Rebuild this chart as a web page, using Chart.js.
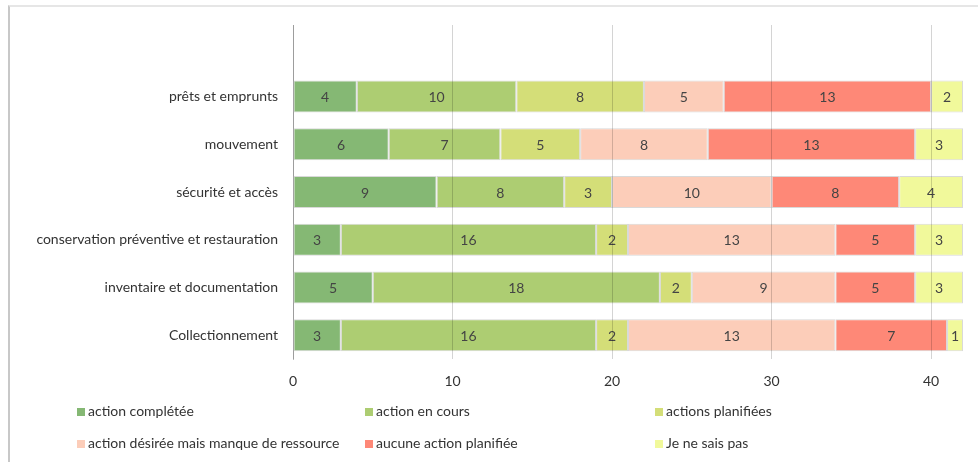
<!DOCTYPE html>
<html>
<head>
<meta charset="utf-8">
<script src="https://cdn.jsdelivr.net/npm/chart.js@4"></script>
<style>
    body { margin: 0; background: #fff; }
    #wrap { position: relative; width: 978px; height: 462px; overflow: hidden; }
    #frame { position: absolute; left: 8px; top: 5px; right: -10px; bottom: -10px; border-left: 2px solid #c8c8c8; border-top: 2px solid #e6e6e6; }
    #chart { position: absolute; left: 0; top: 0; }
    .legend-item { position: absolute; font: 14px Lato, sans-serif; color: #333; white-space: nowrap; line-height: 16px; }
    .legend-item span { display: inline-block; width: 8px; height: 8px; margin-right: 3px; vertical-align: 0px; }
</style>
</head>
<body>
<div id="wrap">
    <div id="frame"></div>
    <canvas id="chart" width="978" height="462"></canvas>
    <div id="legend"></div>
</div>
<script>
    // first label is an empty row kept at the top like the original
    var categories = ['', 'prêts et emprunts', 'mouvement', 'sécurité et accès', 'conservation préventive et restauration', 'inventaire et documentation', 'Collectionnement'];
    var seriesNames = ['action complétée', 'action en cours', 'actions planifiées', 'action désirée mais manque de ressource', 'aucune action planifiée', 'Je ne sais pas'];
    var completee = [null, 4, 6, 9, 3, 5, 3];
    var enCours = [null, 10, 7, 8, 16, 18, 16];
    var planifiees = [null, 8, 5, 3, 2, 2, 2];
    var desiree = [null, 5, 8, 10, 13, 9, 13];
    var aucune = [null, 13, 13, 8, 5, 5, 7];
    var neSaisPas = [null, 2, 3, 4, 3, 3, 1];
    var xTicks = [0, 10, 20, 30, 40];

    var colors = ['#85b874', '#adcd72', '#d4de78', '#fccdb9', '#fe8877', '#f1f99b'];
    var seriesValues = [completee, enCours, planifiees, desiree, aucune, neSaisPas];

    var datasets = seriesValues.map(function(vals, i) {
        return {
            label: seriesNames[i],
            data: vals,
            backgroundColor: colors[i],
            borderColor: '#d9d9d9',
            borderWidth: 1,
            borderSkipped: false,
            barPercentage: 0.67,
            categoryPercentage: 1
        };
    });

    // numbers inside the bars
    var barLabels = {
        id: 'barLabels',
        afterDatasetsDraw: function(chart) {
            var ctx = chart.ctx;
            ctx.save();
            ctx.font = '14px Lato, sans-serif';
            ctx.fillStyle = '#444';
            ctx.textAlign = 'center';
            ctx.textBaseline = 'middle';
            chart.data.datasets.forEach(function(ds, i) {
                chart.getDatasetMeta(i).data.forEach(function(bar, j) {
                    var v = ds.data[j];
                    if (v === null) return;
                    ctx.fillText(String(v), (bar.x + bar.base) / 2, bar.y + 1);
                });
            });
            ctx.restore();
        }
    };

    var ctx = document.getElementById('chart').getContext('2d');
    var chart = new Chart(ctx, {
        type: 'bar',
        data: { labels: categories, datasets: datasets },
        plugins: [barLabels],
        options: {
            indexAxis: 'y',
            responsive: false,
            animation: false,
            layout: { padding: { top: 25, right: 15, bottom: 73, left: 0 } },
            plugins: { legend: { display: false }, tooltip: { enabled: false } },
            scales: {
                x: {
                    stacked: true,
                    min: 0,
                    max: 42,
                    afterBuildTicks: function(scale) {
                        scale.ticks = xTicks.map(function(v) { return { value: v }; });
                    },
                    afterFit: function(scale) { scale.height = 30; },
                    // gridlines show faintly over the bars
                    grid: { color: 'rgba(0,0,0,0.17)', drawTicks: false, z: 1 },
                    border: { display: false },
                    ticks: { padding: 14, color: '#333', font: { family: 'Lato', size: 14 } }
                },
                y: {
                    stacked: true,
                    afterFit: function(scale) { scale.width = 293; },
                    grid: { display: false, drawTicks: false },
                    border: { display: true, color: '#bdbdbd' },
                    ticks: { padding: 15, color: '#333', font: { family: 'Lato', size: 14 } }
                }
            }
        }
    });

    // legend in a 3 x 2 grid
    var legend = document.getElementById('legend');
    var colX = [77, 365, 655];
    var rowY = [403, 435];
    seriesNames.forEach(function(name, i) {
        var el = document.createElement('div');
        el.className = 'legend-item';
        el.style.left = colX[i % 3] + 'px';
        el.style.top = rowY[Math.floor(i / 3)] + 'px';
        el.innerHTML = '<span style="background:' + colors[i] + '"></span>' + name;
        legend.appendChild(el);
    });
</script>
</body>
</html>
